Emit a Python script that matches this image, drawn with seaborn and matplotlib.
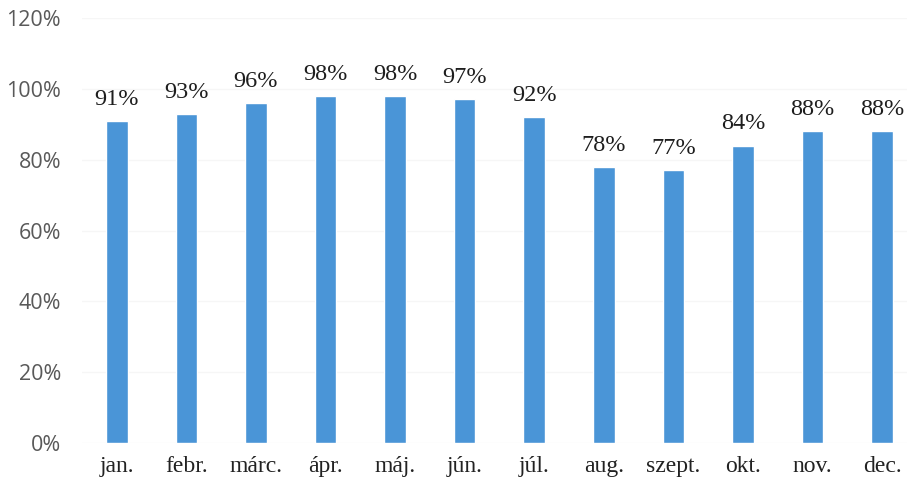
import pandas as pd
import matplotlib.pyplot as plt
import seaborn as sns

# Datos mensuales (porcentajes)
honapok = ['jan.', 'febr.', 'márc.', 'ápr.', 'máj.', 'jún.',
           'júl.', 'aug.', 'szept.', 'okt.', 'nov.', 'dec.']
ertekek = [91, 93, 96, 98, 98, 97, 92, 78, 77, 84, 88, 88]
y_ticks = [0, 20, 40, 60, 80, 100, 120]

df = pd.DataFrame({'honap': honapok, 'ertek': ertekek})

sns.set_theme(style="white")
fig = plt.figure(figsize=(9.07, 4.88), dpi=100)
ax = fig.add_axes([0.0904, 0.0922, 0.9206, 0.8709])

sns.barplot(data=df, x='honap', y='ertek', color='#4a95d7',
            saturation=1, width=0.31, ax=ax)

ax.set_ylim(0, 120)
ax.set_xlim(-0.5, 11.5)
ax.set_yticks(y_ticks)
ax.set_yticklabels([f"{t}%" for t in y_ticks], family='Open Sans',
                   fontsize=15.5, color='#595959')
ax.set_xticks(range(len(honapok)))
ax.set_xticklabels(honapok, family='Liberation Serif', fontsize=17, color='#222222')
ax.tick_params(axis='y', length=0, pad=15)
ax.tick_params(axis='x', length=0, pad=9)

ax.grid(axis='y', color='#f6f6f6', linewidth=1)
ax.set_axisbelow(True)
for s in ax.spines.values():
    s.set_visible(False)

ax.bar_label(ax.containers[0], labels=[f"{v}%" for v in ertekek], padding=8,
             family='Liberation Serif', fontsize=17.5, color='#1e1e1e')

ax.set_xlabel('')
ax.set_ylabel('')

plt.savefig('out.png', dpi=100)
